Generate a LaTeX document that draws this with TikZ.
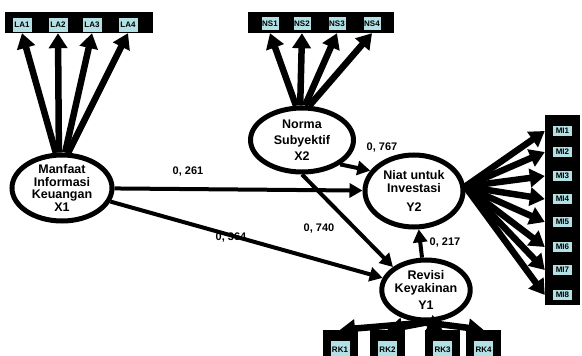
\documentclass[tikz,border=0pt]{standalone}
\usepackage{fontspec}
\setmainfont{Liberation Sans}
\usetikzlibrary{shapes.geometric,arrows.meta}
\definecolor{indblue}{RGB}{178,224,228}

\begin{document}
\begin{tikzpicture}[x=1pt,y=-1pt,
	konstruk/.style={ellipse,draw,line width=5pt,fill=white,inner sep=0pt,align=center,font=\bfseries\fontsize{12.5}{12.5}\selectfont},
	jalur/.style={line width=4pt,-{Triangle[length=13pt,width=14pt]}},
	muat/.style={line width=6.5pt,-{Triangle[length=15pt,width=18pt]}},
	bingkai/.style={fill=black,inner sep=0pt},
	indikator/.style={fill=indblue,inner sep=0pt,font=\bfseries\fontsize{8}{8}\selectfont},
	koef/.style={font=\bfseries\fontsize{11}{11}\selectfont}]

	\useasboundingbox (0,0) rectangle (582,356);

	% kotak indikator
	\node[bingkai,minimum width=148pt,minimum height=21pt] (bla) at (79,22.5) {};
	\foreach \i/\x in {1/22,2/58,3/92,4/128}
		\node[indikator,minimum width=19pt,minimum height=14pt] (la\i) at (\x,24.5) {LA\i};

	\node[bingkai,minimum width=146pt,minimum height=21pt] (bns) at (321,22.5) {};
	\foreach \i/\x in {1/270,2/302,3/337,4/372}
		\node[indikator,minimum width=17pt,minimum height=13pt] (ns\i) at (\x,23.5) {NS\i};

	\node[bingkai,minimum width=35pt,minimum height=190pt] (bmi) at (562.5,210) {};
	\foreach \i/\y in {1/131,2/152,3/176,4/199,5/222,6/247,7/270,8/295}
		\node[indikator,minimum width=19pt,minimum height=10pt] (mi\i) at (562.5,\y) {MI\i};

	\foreach \i/\x in {1/340,2/387.5,3/442.5,4/483.5}{
		\node[bingkai,minimum width=35pt,minimum height=40pt] (brk\i) at (\x,350) {};
		\node[indikator,minimum width=19pt,minimum height=18pt] (rk\i) at (\x,350) {RK\i};
	}

	% konstruk
	\node[konstruk,minimum width=100pt,minimum height=66pt] (x1) at (62,188) {Manfaat\\Informasi\\Keuangan\\X1};
	\node[konstruk,minimum width=103pt,minimum height=64pt] (x2) at (302,140) {Norma\\[4pt]Subyektif\\[3pt]X2};
	\node[konstruk,minimum width=98pt,minimum height=72pt] (y2) at (414,191) {Niat untuk\\Investasi\\[7pt]Y2};
	\node[konstruk,minimum width=88pt,minimum height=60pt] (y1) at (426,290) {Revisi\\Keyakinan\\[5pt]Y1};

	% jalur struktural
	\draw[jalur] (x1) -- (y2);
	\draw[jalur] (x1) -- (y1);
	\draw[jalur] (x2.south east) -- (y2.155);
	\draw[jalur] (x2.south) -- (y1.north west);
	\draw[jalur] (y1.97) -- (y2.-83);

	\node[koef] (k1) at (188,172) {0, 261};
	\node[koef] (k2) at (231,238) {0, 364};
	\node[koef] (k3) at (382,148) {0, 767};
	\node[koef] (k4) at (319,229) {0, 740};
	\node[koef] (k5) at (445,243) {0, 217};

	% loading
	\foreach \i/\a in {1/100,2/95,3/85,4/80}
		\draw[muat] (x1.\a) -- (la\i |- bla.south);
	\foreach \i/\a in {1/100,2/93,3/85,4/78}
		\draw[muat] (x2.\a) -- (ns\i |- bns.south);
	\foreach \i in {1,...,8}
		\draw[muat] (y2.5) -- (bmi.west |- mi\i);
	\foreach \i in {1,...,4}
		\draw[muat] (y1.south) -- (brk\i.north);

\end{tikzpicture}
\end{document}
